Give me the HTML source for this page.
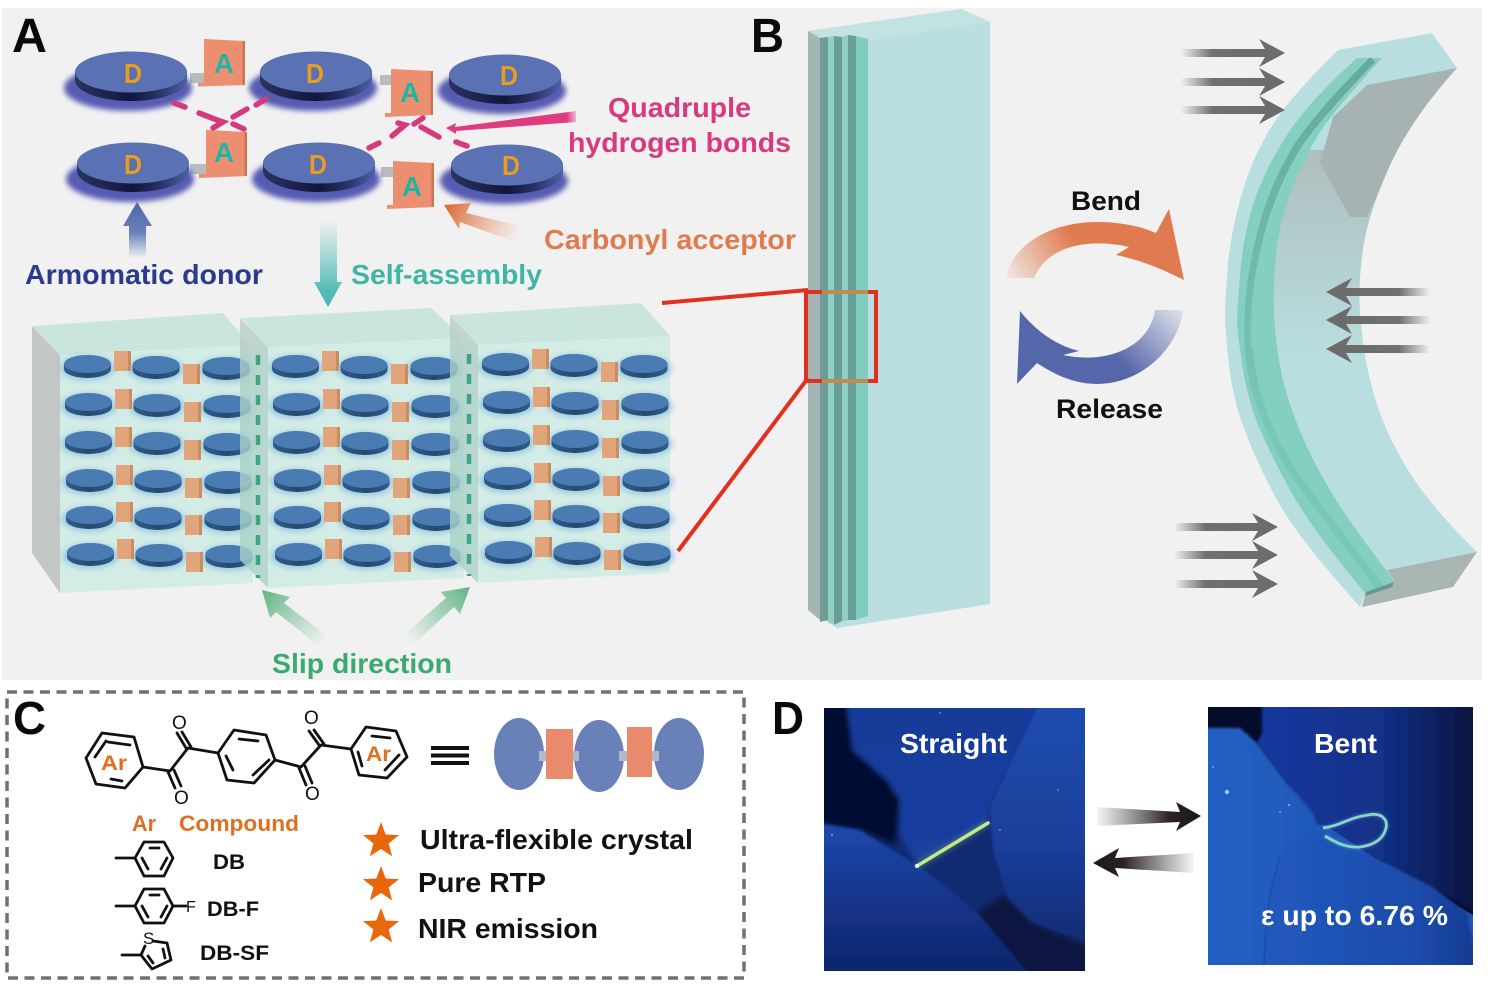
<!DOCTYPE html>
<html>
<head>
<meta charset="utf-8">
<style>
html,body{margin:0;padding:0;background:#fff;}
svg{display:block;}
text{font-family:"Liberation Sans",sans-serif;font-weight:bold;}
</style>
</head>
<body>
<svg xmlns="http://www.w3.org/2000/svg" width="1490" height="994" viewBox="0 0 1490 994">
<defs>
<filter id="b2" x="-30%" y="-30%" width="160%" height="160%"><feGaussianBlur stdDeviation="2.6"/></filter>
<filter id="b1" x="-30%" y="-30%" width="160%" height="160%"><feGaussianBlur stdDeviation="1.3"/></filter>
<linearGradient id="dside" x1="0" x2="1" y1="0" y2="0"><stop offset="0" stop-color="#2b3360"/><stop offset=".5" stop-color="#11163a"/><stop offset=".75" stop-color="#2a3368"/><stop offset="1" stop-color="#4d60a8"/></linearGradient>
<linearGradient id="sside" x1="0" x2="1" y1="0" y2="0"><stop offset="0" stop-color="#2f5d8c"/><stop offset=".5" stop-color="#244a70"/><stop offset="1" stop-color="#2f5d8c"/></linearGradient>
<linearGradient id="upb" x1="0" x2="0" y1="0" y2="1"><stop offset="0" stop-color="#5068a8"/><stop offset=".55" stop-color="#6a80b8"/><stop offset="1" stop-color="#6a80b8" stop-opacity="0"/></linearGradient>
<linearGradient id="selfa" x1="0" x2="0" y1="0" y2="1"><stop offset="0" stop-color="#5fc4bc" stop-opacity="0"/><stop offset=".8" stop-color="#55bdb6"/><stop offset="1" stop-color="#4ab8b2"/></linearGradient>
<linearGradient id="carb" gradientUnits="userSpaceOnUse" x1="444" y1="205" x2="520" y2="236"><stop offset="0" stop-color="#d9642f"/><stop offset="1" stop-color="#e9916a" stop-opacity="0"/></linearGradient>
<linearGradient id="quad" gradientUnits="userSpaceOnUse" x1="446" y1="128" x2="580" y2="115"><stop offset="0" stop-color="#e13b80"/><stop offset=".9" stop-color="#e13b80"/><stop offset="1" stop-color="#e13b80" stop-opacity="0"/></linearGradient>
<linearGradient id="gl" gradientUnits="userSpaceOnUse" x1="262" y1="590" x2="326" y2="640"><stop offset="0" stop-color="#5eb581"/><stop offset="1" stop-color="#6dbb8e" stop-opacity="0"/></linearGradient>
<linearGradient id="gr" gradientUnits="userSpaceOnUse" x1="470" y1="587" x2="407" y2="640"><stop offset="0" stop-color="#5eb581"/><stop offset="1" stop-color="#6dbb8e" stop-opacity="0"/></linearGradient>
<linearGradient id="sideg" x1="0" x2="0" y1="0" y2="1"><stop offset="0" stop-color="#c2cbc8"/><stop offset=".18" stop-color="#aacfc6"/><stop offset="1" stop-color="#a8d2c8"/></linearGradient>
<linearGradient id="bend" gradientUnits="userSpaceOnUse" x1="1006" y1="280" x2="1075" y2="240"><stop offset="0" stop-color="#e07a50" stop-opacity=".05"/><stop offset="1" stop-color="#e07a50"/></linearGradient>
<linearGradient id="rel" gradientUnits="userSpaceOnUse" x1="1183" y1="310" x2="1125" y2="368"><stop offset="0" stop-color="#5567aa" stop-opacity=".1"/><stop offset="1" stop-color="#5567aa"/></linearGradient>
<linearGradient id="ga" x1="0" x2="1" y1="0" y2="0"><stop offset="0" stop-color="#6f6f6f" stop-opacity="0"/><stop offset=".3" stop-color="#707070"/><stop offset="1" stop-color="#6b6b6b"/></linearGradient>
<linearGradient id="greyfade" gradientUnits="userSpaceOnUse" x1="0" x2="0" y1="150" y2="360"><stop offset="0" stop-color="#adbbba"/><stop offset="1" stop-color="#adbbba" stop-opacity="0"/></linearGradient>
<linearGradient id="stripe" gradientUnits="userSpaceOnUse" x1="0" x2="0" y1="60" y2="420"><stop offset="0" stop-color="#66a99d"/><stop offset=".6" stop-color="#70baad"/><stop offset="1" stop-color="#78c8b8"/></linearGradient>
<linearGradient id="da1" x1="0" x2="1" y1="0" y2="0"><stop offset="0" stop-color="#4a3f3f" stop-opacity=".05"/><stop offset=".7" stop-color="#2a2222"/><stop offset="1" stop-color="#1f1818"/></linearGradient>
<linearGradient id="da2" x1="1" x2="0" y1="0" y2="0"><stop offset="0" stop-color="#4a3f3f" stop-opacity=".05"/><stop offset=".7" stop-color="#2a2222"/><stop offset="1" stop-color="#1f1818"/></linearGradient>
<linearGradient id="lr" x1="0" x2="0" y1="0" y2="1"><stop offset="0" stop-color="#1f4db0"/><stop offset=".6" stop-color="#1a3f9a"/><stop offset="1" stop-color="#122a72"/></linearGradient>
<linearGradient id="lb" x1="0" x2="0" y1="0" y2="1"><stop offset="0" stop-color="#1c49ad"/><stop offset=".6" stop-color="#12307f"/><stop offset="1" stop-color="#0d2268"/></linearGradient>
<linearGradient id="lu" x1="0" x2="0" y1="0" y2="1"><stop offset="0" stop-color="#163a98"/><stop offset="1" stop-color="#1a3f9f"/></linearGradient>
<linearGradient id="rb" x1="0" x2="1" y1="0" y2="0"><stop offset="0" stop-color="#1438a0"/><stop offset=".55" stop-color="#123188"/><stop offset=".85" stop-color="#0a1c56"/><stop offset="1" stop-color="#061038"/></linearGradient>
<linearGradient id="rl" x1="0" x2="1" y1="0" y2="0"><stop offset="0" stop-color="#2360c6"/><stop offset="1" stop-color="#1f58ba"/></linearGradient>
<linearGradient id="rbot" x1="0" x2="1" y1="0" y2="0"><stop offset="0" stop-color="#2159bd"/><stop offset=".7" stop-color="#1c4cac"/><stop offset="1" stop-color="#143a8e"/></linearGradient>
<g id="D">
<ellipse cx="-3" cy="16" rx="64" ry="23" fill="#565cb2" filter="url(#b2)"/>
<path d="M-56,0 v8 a56,21 0 0 0 112,0 v-8 Z" fill="url(#dside)"/>
<ellipse cx="0" cy="0" rx="56" ry="20.5" fill="#5a71b3"/>
</g>
<g id="sd">
<ellipse cx="0" cy="4" rx="28" ry="13" fill="#5a9fd8" opacity=".42" filter="url(#b2)"/>
<path d="M-23.5,0 v5 a23.5,9 0 0 0 47,0 v-5 Z" fill="url(#sside)"/>
<ellipse cx="0" cy="0" rx="23.5" ry="9" fill="#4a7bb2"/>
</g>
<g id="sr">
<use href="#sd" x="87.5" y="364"/>
<use href="#sd" x="156" y="365"/>
<use href="#sd" x="226" y="366"/>
<rect x="114" y="351" width="17" height="20" fill="#e2a47b"/>
<rect x="128" y="351" width="3" height="20" fill="#c98d63"/>
<rect x="183" y="364" width="17" height="20" fill="#e2a47b"/>
<rect x="197" y="364" width="3" height="20" fill="#c98d63"/>
</g>
<g id="block">
<use href="#sr"/>
<use href="#sr" x="1" y="38"/>
<use href="#sr" x="1" y="76"/>
<use href="#sr" x="2" y="114"/>
<use href="#sr" x="2" y="151"/>
<use href="#sr" x="3" y="188"/>
</g>
<path id="garrow" d="M0,0 L-26,-14 L-20,-4 L-104,-4 L-104,4 L-20,4 L-26,14 Z" fill="url(#ga)"/>
</defs>

<rect x="0" y="0" width="1490" height="994" fill="#fff"/>
<rect x="2" y="8" width="1480" height="672" fill="#f1f1f1"/>

<!-- Panel A upper -->
<rect x="190" y="73" width="16" height="10" fill="#b9bcbf"/>
<rect x="380" y="75" width="14" height="10" fill="#b9bcbf"/>
<rect x="190" y="164" width="16" height="10" fill="#b9bcbf"/>
<rect x="381" y="167" width="14" height="10" fill="#b9bcbf"/>
<use href="#D" x="131" y="72"/>
<use href="#D" x="316" y="72"/>
<use href="#D" x="505" y="75"/>
<use href="#D" x="133" y="163"/>
<use href="#D" x="319" y="163"/>
<use href="#D" x="507" y="165"/>
<g fill="#e89c20" font-size="28">
<text x="124" y="83" textLength="18" lengthAdjust="spacingAndGlyphs">D</text>
<text x="306" y="83" textLength="18" lengthAdjust="spacingAndGlyphs">D</text>
<text x="500" y="85" textLength="18" lengthAdjust="spacingAndGlyphs">D</text>
<text x="124" y="174" textLength="18" lengthAdjust="spacingAndGlyphs">D</text>
<text x="309" y="174" textLength="18" lengthAdjust="spacingAndGlyphs">D</text>
<text x="502" y="175" textLength="18" lengthAdjust="spacingAndGlyphs">D</text>
</g>
<g>
<polygon points="204,39 245,41 245,85 198,86.5 198,83 204,83" fill="#ec8f70"/><rect x="242.5" y="41" width="2.5" height="44" fill="#c87552"/>
<polygon points="391,69 433,71 433,115 385,117 385,113 391,113" fill="#ec8f70"/><rect x="430.5" y="71" width="2.5" height="44" fill="#c87552"/>
<polygon points="206,130 247,132 247,176 199,178 199,174 206,174" fill="#ec8f70"/><rect x="244.5" y="132" width="2.5" height="44" fill="#c87552"/>
<polygon points="393,161 434,163 434,207 387,209 387,205 393,205" fill="#ec8f70"/><rect x="431.5" y="163" width="2.5" height="44" fill="#c87552"/>
</g>
<g fill="#1fb5a5" font-size="28">
<text x="214" y="73" textLength="20" lengthAdjust="spacingAndGlyphs">A</text>
<text x="400" y="102" textLength="20" lengthAdjust="spacingAndGlyphs">A</text>
<text x="214" y="162" textLength="20" lengthAdjust="spacingAndGlyphs">A</text>
<text x="402" y="196" textLength="20" lengthAdjust="spacingAndGlyphs">A</text>
</g>
<g stroke="#d6397e" stroke-width="5.5" fill="none" stroke-linecap="round">
<path d="M174,103 L185,107 M199,113 L217,120 L223,122 L213,128 M266,99 L256,105 M247,109 L233,117 M233,124 L244,129"/>
<path d="M369,148 L379,143 M392,136 L405,125 L398,123 M414,124 L423,118 M421,127 L439,137 M456,142 L467,146"/>
</g>
<polygon points="446,128 456,123 455,127 576,111 576,122 456,131 456,134" fill="url(#quad)"/>
<polygon points="444,205 471,203 466,213 520,226 518,243 460,222 459,229" fill="url(#carb)"/>
<polygon points="137,202 152,226 146,226 146,258 129,258 129,226 123,226" fill="url(#upb)"/>
<polygon points="320,220 337,220 337,282 342,282 328,307 314,282 320,282" fill="url(#selfa)"/>

<g font-size="28">
<text x="12" y="52" textLength="35" lengthAdjust="spacingAndGlyphs" fill="#0a0a0a" style="font-size:48px">A</text>
<text x="608" y="117" textLength="143" lengthAdjust="spacingAndGlyphs" fill="#d8397f">Quadruple</text>
<text x="568" y="152" textLength="223" lengthAdjust="spacingAndGlyphs" fill="#d8397f">hydrogen bonds</text>
<text x="544" y="249" textLength="252" lengthAdjust="spacingAndGlyphs" fill="#e07b50">Carbonyl acceptor</text>
<text x="25" y="284" textLength="238" lengthAdjust="spacingAndGlyphs" fill="#2a3a8c">Armomatic donor</text>
<text x="351" y="284" textLength="191" lengthAdjust="spacingAndGlyphs" fill="#3fb5a5">Self-assembly</text>
<text x="272" y="673" textLength="180" lengthAdjust="spacingAndGlyphs" fill="#3aaa6f">Slip direction</text>
</g>

<!-- Panel A blocks -->
<polygon points="32,326 60,355 60,593 32,553" fill="#c3c7c6"/>
<polygon points="32,326 223,313 250,345 60,355" fill="#c9e5de"/>
<polygon points="60,355 250,345 253,583 60,593" fill="#d3ece6"/>
<use href="#block"/>
<polygon points="268,347 462,338 464,578 268,588" fill="#d3ece6"/>
<polygon points="241,318 431,308 462,338 268,347" fill="#c9e5de"/>
<use href="#block" x="208"/>
<polygon points="240,318 268,347 268,588 240,560" fill="url(#sideg)" opacity=".8"/>
<line x1="258" y1="355" x2="258" y2="578" stroke="#3fa585" stroke-width="4.5" stroke-dasharray="10 10"/>
<polygon points="478,345 670,336 670,573 478,583" fill="#d3ece6"/>
<polygon points="450,315 641,303 670,336 478,345" fill="#c9e5de"/>
<use href="#block" x="418" y="-2"/>
<polygon points="450,315 478,345 478,583 450,556" fill="url(#sideg)" opacity=".8"/>
<line x1="469" y1="354" x2="469" y2="576" stroke="#3fa585" stroke-width="4.5" stroke-dasharray="10 10"/>
<polygon points="262,590 290,597 284,603 326,635 318,645 276,612 270,618" fill="url(#gl)"/>
<polygon points="470,587 460,614 454,607 413,645 404,635 446,598 441,592" fill="url(#gr)"/>

<!-- Panel B straight crystal -->
<polygon points="808,31 961,9 990,22 990,604 837,628 808,610" fill="#bbdfe0"/>
<polygon points="808,31 961,9 990,22 837,45" fill="#c2e3e2"/>
<polygon points="808,31 820,38 820,620 808,610" fill="#a4b5b3"/>
<polygon points="820,38 828,37 828,620 820,622" fill="#6d9b96"/>
<polygon points="828,37 834,36 834,624 828,622" fill="#8fd0c6"/>
<polygon points="834,36 842,37 842,621 834,625" fill="#6a9f98"/>
<polygon points="842,37 848,35 848,620 842,621" fill="#8ed0c6"/>
<polygon points="848,35 856,36 856,620 848,620" fill="#66a097"/>
<polygon points="856,36 868,39 868,616 856,620" fill="#82cbbf"/>

<!-- red callout -->
<g stroke="#e03020" fill="none" stroke-width="4">
<line x1="662" y1="303" x2="808" y2="290"/>
<line x1="678" y1="551" x2="808" y2="378"/>
<rect x="806" y="292" width="70" height="89"/>
</g>
<line x1="822" y1="292" x2="868" y2="292" stroke="#c08a50" stroke-width="4"/>
<line x1="822" y1="381" x2="868" y2="381" stroke="#c08a50" stroke-width="4"/>
<text x="751" y="52" textLength="33" lengthAdjust="spacingAndGlyphs" fill="#0a0a0a" style="font-size:48px">B</text>

<path d="M1006,278 C1012,245 1050,222 1097,222 C1120,222 1140,226 1156,233 L1169,209 L1184,280 C1160,268 1140,260 1116,255 L1129,247 C1100,240 1050,240 1034,278 Z" fill="url(#bend)"/>
<path d="M1183,310 C1178,350 1140,384 1097,384 C1075,384 1055,375 1037,363 L1017,384 L1020,311 C1035,330 1055,345 1079,351 L1063,355 C1110,365 1150,345 1155,310 Z" fill="url(#rel)"/>
<text x="1071" y="210" font-size="27" textLength="70" lengthAdjust="spacingAndGlyphs" fill="#111">Bend</text>
<text x="1056" y="418" font-size="27" textLength="107" lengthAdjust="spacingAndGlyphs" fill="#111">Release</text>

<!-- bent crystal -->
<clipPath id="bodyclip"><path d="M1338,50 L1432,33 L1457,68 Q1410,120 1388.5,168.5 Q1367,217 1362.5,252 Q1358,287 1360,312 Q1362,337 1364.5,353 Q1367,370 1375,398 Q1383,427 1405,465 Q1427,503 1477,552 L1387,570 L1395,582 L1365,595 L1360,607 Q1297,537 1277,500 Q1257,463 1245,431 Q1233,400 1229,365 Q1225,330 1225,316 Q1225,303 1227.5,270 Q1230,237 1240,200 Q1250,163 1268.5,131.5 Q1287,100 1338,50 Z"/></clipPath>
<rect x="1220" y="30" width="260" height="580" fill="#b9dedf" clip-path="url(#bodyclip)"/>
<path d="M1300,150 L1385,150 L1385,360 L1268,360 L1268,190 Z" fill="url(#greyfade)" clip-path="url(#bodyclip)" opacity=".9"/>
<path d="M1367,85 L1457,68 Q1410,120 1388.5,168.5 Q1373,205 1367,217 L1350,217 L1320,163 L1333,117 Z" fill="#a7b3b2"/>
<path d="M1357,58 Q1307,103 1285,138 Q1263,173 1253,205 Q1243,237 1240,275 Q1237,313 1237,321 Q1237,330 1242,363 Q1247,397 1258,425 Q1270,453 1290,490 Q1310,527 1365,593 L1395,582 Q1353,527 1338,503 Q1323,480 1306,445 Q1290,410 1282,376 Q1275,343 1274,311 Q1273,280 1277,246 Q1282,213 1294,183 Q1307,153 1320,132 Q1333,112 1382,58 Z" fill="#85cfc1"/>
<path d="M1373,60 Q1320,113 1298,146 Q1277,180 1266,216 Q1255,253 1251,286 Q1247,320 1249,350 Q1251,380 1263,412 Q1275,445 1297,478 Q1320,510 1380,587" fill="none" stroke="url(#stripe)" stroke-width="8"/>
<path d="M1376,62 Q1322,118 1300,150 Q1280,185 1269,220 Q1258,257 1254,288 Q1250,322 1252,350" fill="none" stroke="#8fd2c6" stroke-width="1.5" opacity=".7"/>
<polygon points="1387,570 1477,552 1453,587 1362,607 1365,595 1395,582" fill="#a9b5b3"/>
<polygon points="1366,592 1394,582 1392,587 1365,596" fill="#6a9690"/>

<use href="#garrow" x="1285" y="53"/>
<use href="#garrow" x="1285" y="82"/>
<use href="#garrow" x="1285" y="110"/>
<use href="#garrow" x="1278" y="527"/>
<use href="#garrow" x="1278" y="555"/>
<use href="#garrow" x="1278" y="584"/>
<g transform="translate(1326,292) scale(-1,1)"><use href="#garrow"/></g>
<g transform="translate(1326,320) scale(-1,1)"><use href="#garrow"/></g>
<g transform="translate(1326,349) scale(-1,1)"><use href="#garrow"/></g>

<!-- Panel C -->
<rect x="7" y="692" width="737" height="286" fill="none" stroke="#707070" stroke-width="3.5" stroke-dasharray="10 6.5"/>
<text x="13" y="734" textLength="33" lengthAdjust="spacingAndGlyphs" fill="#0a0a0a" style="font-size:46px">C</text>
<g stroke="#111" stroke-width="2.8" fill="none" stroke-linejoin="round" stroke-linecap="round">
<polygon points="86,758 102,733 134,737 143,767 125,788 96,784"/>
<polygon points="218,753 234,730 266,735 275,760 254,783 227,780"/>
<polygon points="351,749 366,727 396,731 407,757 387,778 359,775"/>
<path d="M143,767 L170,771 L188,748 L218,753 M275,760 L301,767 L321,745 L351,749"/>
<path d="M168,772 L175,788 M174,770 L181,786 M186,748 L177,733 M191,747 L182,732"/>
<path d="M299,768 L306,785 M305,766 L312,783 M319,745 L309,731 M324,744 L314,730"/>
<path d="M95,757 L106,741 M108,742 L130,745 M111,779 L122,781 M239,739 L258,741 M269,760 L253,775 M233,770 L226,756 M372,736 L390,738 M399,755 L385,770 M362,766 L358,752"/>
<path d="M116,858 L135,858 L144,842 L164,842 L173,858 L164,876 L144,876 L135,858 M150,848 L159,848 M167,858 L161,869 M142,858 L148,869"/>
<path d="M116,906 L135,906 L144,889 L164,889 L173,906 L164,923 L144,923 L135,906 M150,895 L159,895 M167,906 L161,917 M142,906 L148,917 M173,906 L186,906"/>
<path d="M122,955 L141,955 L145,946 M153,941 L167,943 L171,960 L152,969 L141,955 M163,949 L165,958 M153,963 L148,956"/>
</g>
<g fill="#111" font-size="19">
<text x="172" y="729" style="font-weight:normal">O</text>
<text x="174" y="804" style="font-weight:normal">O</text>
<text x="304" y="724" style="font-weight:normal">O</text>
<text x="305" y="800" style="font-weight:normal">O</text>
<text x="186" y="912" style="font-weight:normal;font-size:16px">F</text>
<text x="143" y="944" style="font-weight:normal;font-size:17px">S</text>
</g>
<text x="101" y="770" font-size="21" textLength="26" lengthAdjust="spacingAndGlyphs" fill="#e07020">Ar</text>
<text x="366" y="761" font-size="21" textLength="25" lengthAdjust="spacingAndGlyphs" fill="#e07020">Ar</text>
<g stroke="#111" stroke-width="4"><line x1="431" y1="748" x2="469" y2="748"/><line x1="431" y1="755.5" x2="469" y2="755.5"/><line x1="431" y1="763" x2="469" y2="763"/></g>
<ellipse cx="519" cy="754" rx="25" ry="36" fill="#6a80b9"/>
<ellipse cx="599" cy="756" rx="25" ry="36" fill="#6a80b9"/>
<ellipse cx="679" cy="754" rx="25" ry="36" fill="#6a80b9"/>
<rect x="539" y="751" width="40" height="10" fill="#b4b6cc"/>
<rect x="619" y="751" width="40" height="10" fill="#b4b6cc"/>
<rect x="546" y="729" width="27" height="50" fill="#ea8a6c"/>
<rect x="627" y="727" width="25" height="50" fill="#ea8a6c"/>
<text x="132" y="831" font-size="22" textLength="24" lengthAdjust="spacingAndGlyphs" fill="#e07020">Ar</text>
<text x="179" y="831" font-size="22" textLength="120" lengthAdjust="spacingAndGlyphs" fill="#e07020">Compound</text>
<text x="213" y="869" font-size="21" textLength="32" lengthAdjust="spacingAndGlyphs" fill="#111">DB</text>
<text x="207" y="916" font-size="21" textLength="52" lengthAdjust="spacingAndGlyphs" fill="#111">DB-F</text>
<text x="200" y="960" font-size="21" textLength="69" lengthAdjust="spacingAndGlyphs" fill="#111">DB-SF</text>
<g fill="#e8660c">
<polygon transform="translate(381,841)" points="0,-19 4.7,-6.47 18.07,-5.87 7.6,2.47 11.17,15.37 0,8 -11.17,15.37 -7.6,2.47 -18.07,-5.87 -4.7,-6.47"/>
<polygon transform="translate(381,885)" points="0,-19 4.7,-6.47 18.07,-5.87 7.6,2.47 11.17,15.37 0,8 -11.17,15.37 -7.6,2.47 -18.07,-5.87 -4.7,-6.47"/>
<polygon transform="translate(381,927)" points="0,-19 4.7,-6.47 18.07,-5.87 7.6,2.47 11.17,15.37 0,8 -11.17,15.37 -7.6,2.47 -18.07,-5.87 -4.7,-6.47"/>
</g>
<g font-size="28" fill="#111">
<text x="420" y="849" textLength="273" lengthAdjust="spacingAndGlyphs">Ultra-flexible crystal</text>
<text x="418" y="892" textLength="128" lengthAdjust="spacingAndGlyphs">Pure RTP</text>
<text x="418" y="938" textLength="180" lengthAdjust="spacingAndGlyphs">NIR emission</text>
</g>

<!-- Panel D -->
<text x="772" y="734" textLength="32" lengthAdjust="spacingAndGlyphs" fill="#0a0a0a" style="font-size:46px">D</text>
<clipPath id="imgL"><rect x="824" y="708" width="261" height="263"/></clipPath>
<clipPath id="imgR"><rect x="1208" y="707" width="265" height="258"/></clipPath>
<g clip-path="url(#imgL)">
<rect x="824" y="708" width="261" height="263" fill="#122a72"/>
<path d="M815,700 L848,700 L853,750 L887,780 L900,800 L895,845 L860,830 L815,823 Z" fill="#050d30" filter="url(#b2)"/>
<path d="M846,700 L1042,700 L990,807 L988,823 L917,865 L900,835 L900,800 L887,780 L853,750 Z" fill="url(#lu)" filter="url(#b2)"/>
<path d="M977,913 L1005,895 L1033,923 L1095,948 L1095,985 L1030,985 Z" fill="#071440" filter="url(#b2)"/>
<path d="M1040,700 L1095,700 L1095,945 L1033,923 L1007,897 L993,850 L990,807 Z" fill="url(#lr)" filter="url(#b1)"/>
<path d="M815,823 L860,830 L887,847 L917,865 L947,887 L977,913 L1030,975 L815,985 Z" fill="url(#lb)" filter="url(#b1)"/>
<line x1="917" y1="866" x2="988" y2="823" stroke="#9fe070" stroke-width="7" opacity=".3" filter="url(#b2)"/>
<line x1="917" y1="866" x2="988" y2="823" stroke="#c4e88a" stroke-width="3.5" stroke-linecap="round"/>
<circle cx="917" cy="866" r="2" fill="#fff"/>
<g fill="#5d86d8"><circle cx="832" cy="835" r="1.2"/><circle cx="1000" cy="830" r="1"/><circle cx="1058" cy="790" r="1"/><circle cx="940" cy="713" r="1"/></g>
</g>
<g clip-path="url(#imgR)">
<rect x="1208" y="707" width="265" height="258" fill="#050c2a"/>
<path d="M1262,700 L1480,700 L1480,915 L1433,887 L1387,863 L1320,835 L1287,783 L1257,743 L1262,733 Z" fill="url(#rb)" filter="url(#b1)"/>
<polygon points="1208,820 1325,825 1400,875 1473,915 1473,965 1208,965" fill="#1f56b8"/>
<path d="M1200,728 L1240,728 L1257,743 L1287,783 L1313,813 L1320,833 L1297,840 L1280,857 L1268,903 L1263,975 L1200,975 Z" fill="url(#rl)" filter="url(#b1)"/>
<path d="M1280,857 L1297,840 L1320,835 L1350,847 L1387,863 L1433,887 L1467,913 L1480,975 L1263,975 L1268,903 Z" fill="url(#rbot)" filter="url(#b1)"/>
<path d="M1280,857 L1272,885 L1266,925 L1264,965" fill="none" stroke="#1a48a2" stroke-width="1.5" opacity=".7"/>
<path d="M1323,828 C1340,826 1350,817 1368,815 C1382,812 1388,820 1386,828 C1384,838 1375,845 1360,847 C1345,848 1335,842 1325,836" fill="none" stroke="#86d6cb" stroke-width="5" opacity=".25" filter="url(#b1)"/>
<path d="M1323,828 C1340,826 1350,817 1368,815 C1382,812 1388,820 1386,828 C1384,838 1375,845 1360,847 C1345,848 1335,842 1325,836" fill="none" stroke="#86d6cb" stroke-width="2.8"/>
<circle cx="1227" cy="792" r="2.2" fill="#9fc6f2"/>
<g fill="#6f9ce6"><circle cx="1289" cy="805" r="1.3"/><circle cx="1280" cy="812" r="1"/><circle cx="1213" cy="767" r="1"/></g>
</g>
<text x="900" y="753" font-size="28" textLength="107" lengthAdjust="spacingAndGlyphs" fill="#fff">Straight</text>
<text x="1314" y="753" font-size="28" textLength="63" lengthAdjust="spacingAndGlyphs" fill="#fff">Bent</text>
<text x="1261" y="925" font-size="28" textLength="187" lengthAdjust="spacingAndGlyphs" fill="#fff">ε up to 6.76 %</text>
<polygon points="1097,807 1180,812 1176,802 1201,816 1176,831 1180,822 1097,826" fill="url(#da1)"/>
<polygon points="1194,853 1115,858 1119,848 1093,863 1119,877 1115,868 1194,873" fill="url(#da2)"/>
</svg>
</body>
</html>
